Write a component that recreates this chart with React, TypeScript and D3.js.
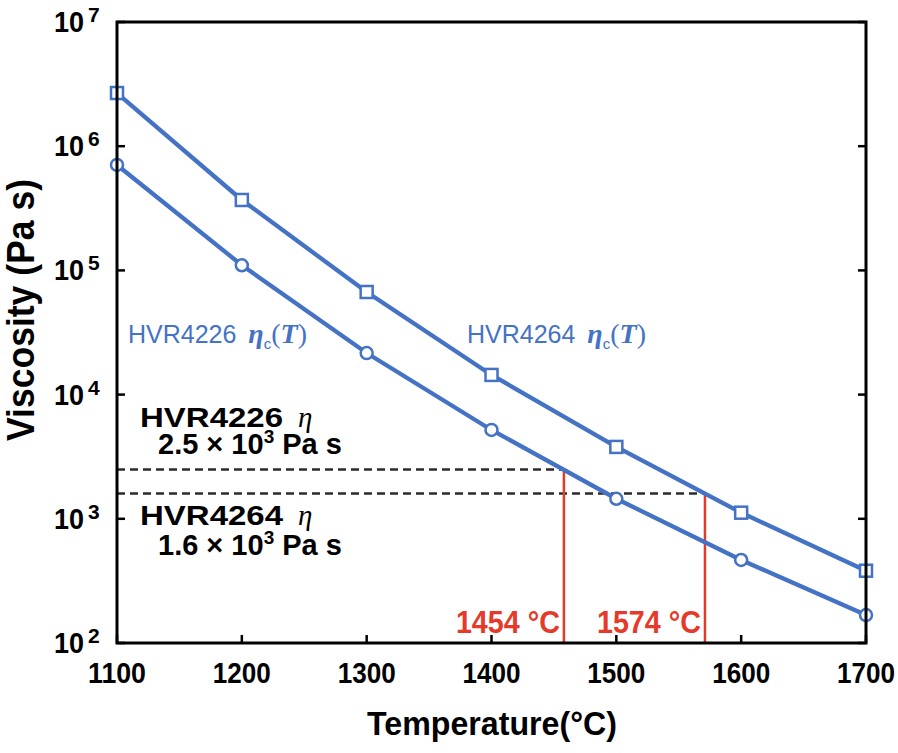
import React from "react";
import * as d3 from "d3";

const temps = [1100, 1200, 1300, 1400, 1500, 1600, 1700];
const hvr4264 = [2.68e6, 3.69e5, 6.7e4, 1.44e4, 3.79e3, 1.12e3, 382];
const hvr4226 = [7.06e5, 1.1e5, 2.16e4, 5.19e3, 1.45e3, 466, 168];
const xTicks = [1100, 1200, 1300, 1400, 1500, 1600, 1700];
const yExps = [2, 3, 4, 5, 6, 7];
const etaLevels = [2.5e3, 1.6e3];
const crossTemps = [1458, 1571];
const crossLabels = ["1454 °C", "1574 °C"];

const W = 898;
const H = 753;
const L = 117, R = 866, T = 22, B = 643;
const BLUE = "#4472c4";
const RED = "#e5392a";
const SANS = "'Liberation Sans', Arial, Helvetica, sans-serif";
const SERIF = "'Liberation Serif', 'DejaVu Serif', serif";

export default function App() {
  const x = d3.scaleLinear().domain([1100, 1700]).range([L, R]);
  const y = d3.scaleLog().domain([1e2, 1e7]).range([B, T]);
  const line = d3
    .line<number>()
    .x((_, i) => x(temps[i]))
    .y((d) => y(d));

  return (
    <svg
      width={W}
      height={H}
      style={{ position: "absolute", left: 0, top: 0, background: "#fff" }}
      fontFamily={SANS}
    >
      {/* dashed reference lines */}
      {etaLevels.map((v, i) => (
        <line
          key={"d" + i}
          x1={L}
          x2={x(crossTemps[i])}
          y1={y(v)}
          y2={y(v)}
          stroke="#2b2b2b"
          strokeWidth={2.5}
          strokeDasharray="8 5"
        />
      ))}
      {/* red verticals */}
      {etaLevels.map((v, i) => (
        <line
          key={"r" + i}
          x1={x(crossTemps[i])}
          x2={x(crossTemps[i])}
          y1={B}
          y2={y(v)}
          stroke={RED}
          strokeWidth={2.5}
        />
      ))}
      {/* series lines */}
      <path d={line(hvr4264) || ""} fill="none" stroke={BLUE} strokeWidth={4.3} />
      <path d={line(hvr4226) || ""} fill="none" stroke={BLUE} strokeWidth={4.3} />
      {hvr4264.map((v, i) => (
        <rect
          key={"s" + i}
          x={x(temps[i]) - 6}
          y={y(v) - 6}
          width={12}
          height={12}
          fill="#fff"
          stroke={BLUE}
          strokeWidth={2.5}
        />
      ))}
      {hvr4226.map((v, i) => (
        <circle
          key={"c" + i}
          cx={x(temps[i])}
          cy={y(v)}
          r={6}
          fill="#fff"
          stroke={BLUE}
          strokeWidth={2.5}
        />
      ))}
      {/* frame */}
      <rect x={L} y={T} width={R - L} height={B - T} fill="none" stroke="#000" strokeWidth={3} />
      {/* x ticks */}
      {xTicks.map((t) => (
        <g key={"xt" + t}>
          <line x1={x(t)} x2={x(t)} y1={B} y2={B - 8} stroke="#000" strokeWidth={2.5} />
          <text
            x={x(t) - 29}
            y={683}
            fontSize={30}
            fontWeight="bold"
            textLength={58}
            lengthAdjust="spacingAndGlyphs"
          >
            {t}
          </text>
        </g>
      ))}
      {/* y ticks */}
      {yExps.map((e) => {
        const yy = y(Math.pow(10, e));
        return (
          <g key={"yt" + e}>
            <line x1={L} x2={L + 8} y1={yy} y2={yy} stroke="#000" strokeWidth={2.5} />
            <line x1={R} x2={R - 8} y1={yy} y2={yy} stroke="#000" strokeWidth={2.5} />
            <text
              x={54}
              y={yy + 10}
              fontSize={29}
              fontWeight="bold"
              textLength={30}
              lengthAdjust="spacingAndGlyphs"
            >
              10
            </text>
            <text x={88} y={yy} fontSize={21} fontWeight="bold">
              {e}
            </text>
          </g>
        );
      })}
      {/* axis titles */}
      <text
        x={367}
        y={735}
        fontSize={33}
        fontWeight="bold"
        textLength={250}
        lengthAdjust="spacingAndGlyphs"
      >
        Temperature(°C)
      </text>
      <text
        transform="translate(34,441) rotate(-90)"
        fontSize={38}
        fontWeight="bold"
        textLength={262}
        lengthAdjust="spacingAndGlyphs"
      >
        Viscosity (Pa s)
      </text>
      {/* blue labels */}
      {[
        { name: "HVR4226", x0: 128 },
        { name: "HVR4264", x0: 467 },
      ].map((d) => (
        <text key={d.name} x={d.x0} y={343} fill={BLUE} fontSize={25}>
          <tspan>{d.name + " "}</tspan>
          <tspan fontFamily={SERIF} fontStyle="italic" fontWeight="bold" fontSize={28} dx={5}>
            η
          </tspan>
          <tspan fontSize={15} dy={6}>
            c
          </tspan>
          <tspan fontFamily={SERIF} fontSize={28} dy={-6}>
            (
          </tspan>
          <tspan fontFamily={SERIF} fontStyle="italic" fontWeight="bold" fontSize={28}>
            T
          </tspan>
          <tspan fontFamily={SERIF} fontSize={28}>)</tspan>
        </text>
      ))}
      {/* black labels */}
      {[
        { name: "HVR4226", val: "2.5", y1: 427, y2: 454 },
        { name: "HVR4264", val: "1.6", y1: 525, y2: 555 },
      ].map((d) => (
        <g key={"b" + d.name}>
          <text
            x={140}
            y={d.y1}
            fontSize={28}
            fontWeight="bold"
            textLength={143}
            lengthAdjust="spacingAndGlyphs"
          >
            {d.name}
          </text>
          <text x={298} y={d.y1} fontFamily={SERIF} fontStyle="italic" fontSize={29}>
            η
          </text>
          <text x={158} y={d.y2} fontSize={29} fontWeight="bold">
            <tspan>{d.val + " × 10"}</tspan>
            <tspan fontSize={19} dy={-11}>
              3
            </tspan>
            <tspan dy={11}>{" Pa s"}</tspan>
          </text>
        </g>
      ))}
      {/* red labels */}
      {crossLabels.map((lab, i) => (
        <text
          key={lab}
          x={x(crossTemps[i]) - 108}
          y={633}
          fill={RED}
          fontSize={32}
          fontWeight="bold"
          textLength={104}
          lengthAdjust="spacingAndGlyphs"
        >
          {lab}
        </text>
      ))}
    </svg>
  );
}
